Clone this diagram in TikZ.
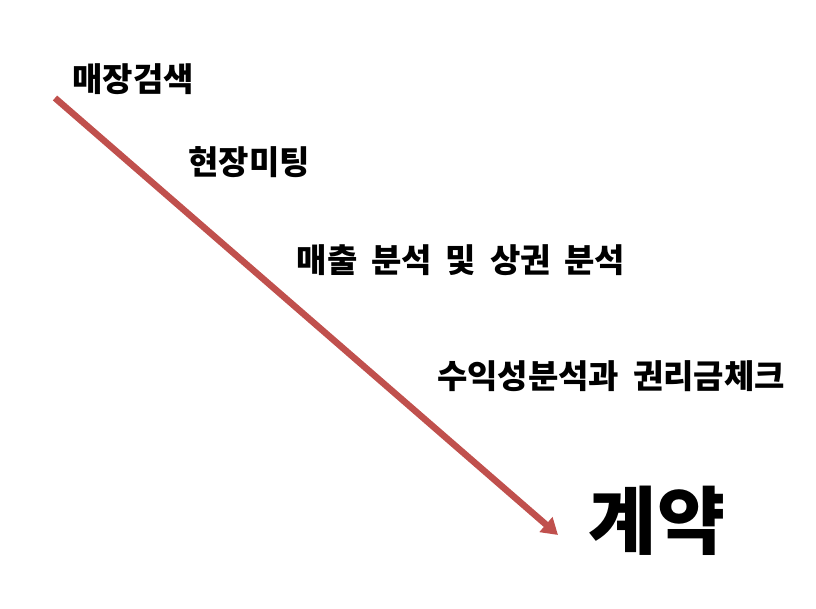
\documentclass[tikz,border=0pt]{standalone}
\usepackage{fontspec}
\newfontfamily\kofont{Noto Sans CJK KR}
\usetikzlibrary{arrows.meta}
\definecolor{arrowred}{HTML}{C0504D}
\newcommand{\gap}{\hspace{0.42em}}
\tikzset{
  steplabel/.style={font=\kofont\bfseries\fontsize{33}{36}\selectfont, inner sep=0pt},
  goallabel/.style={font=\kofont\bfseries\fontsize{74}{80}\selectfont, inner sep=0pt}
}
\begin{document}
\begin{tikzpicture}[x=1pt, y=-1pt]
    \useasboundingbox (0,0) rectangle (816,609);

    % Fleche de progression
    \coordinate (start) at (55,98);
    \coordinate (finish) at (558,535);
    \draw[arrowred, line width=6.5pt, -{Triangle[length=16pt, width=19pt]}] (start) -- (finish);

    % Etapes
    \node[steplabel] (search) at (133,79) {매장검색};
    \node[steplabel] (meeting) at (249,162) {현장미팅};
    \node[steplabel] (sales) at (461,260) {매출\gap 분석\gap 및\gap 상권\gap 분석};
    \node[steplabel] (profit) at (611,376) {수익성분석과\gap 권리금체크};

    % Resultat
    \node[goallabel] (contract) at (657,521) {계약};
\end{tikzpicture}
\end{document}
